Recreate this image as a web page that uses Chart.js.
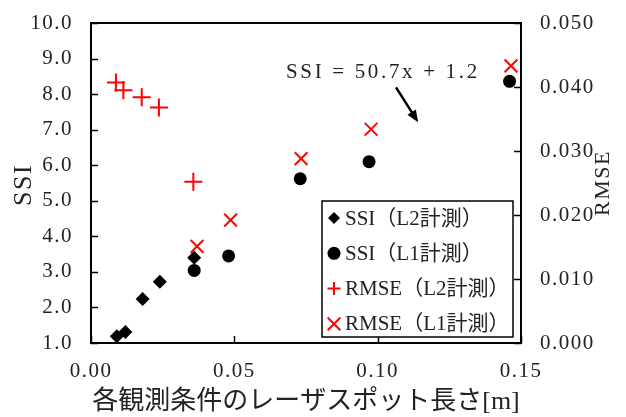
<!DOCTYPE html>
<html>
<head>
<meta charset="utf-8">
<script src="https://cdn.jsdelivr.net/npm/chart.js@4.4.1/dist/chart.umd.min.js"></script>
<style>
  html, body { margin: 0; padding: 0; background: #fff; }
  #wrap { width: 626px; height: 417px; }
</style>
</head>
<body>
<div id="wrap"><canvas id="chart"></canvas></div>
<script>
// data
const ssiL2X = [0.009, 0.012, 0.018, 0.024, 0.036];
const ssiL2Y = [1.19, 1.31, 2.24, 2.72, 3.40];
const ssiL1X = [0.036, 0.048, 0.073, 0.097, 0.146];
const ssiL1Y = [3.04, 3.45, 5.62, 6.10, 8.36];
const rmseL2X = [0.0087, 0.0113, 0.0177, 0.0237, 0.0357];
const rmseL2Y = [0.0407, 0.0395, 0.0384, 0.0368, 0.0252];
const rmseL1X = [0.037, 0.0487, 0.0733, 0.0977, 0.1465];
const rmseL1Y = [0.0151, 0.0192, 0.0288, 0.0334, 0.0433];

const seriesLabels = ['SSI（L2計測）', 'SSI（L1計測）', 'RMSE（L2計測）', 'RMSE（L1計測）'];
const xTitle = '各観測条件のレーザスポット長さ[m]';
const yTitle = 'SSI';
const y2Title = 'RMSE';
const fitText = 'SSI = 50.7x + 1.2';

const FONT = '"Liberation Serif", "Noto Sans CJK JP", serif';
const TXT = '#222';

function pts(xs, ys) {
    return xs.map((x, i) => ({ x: x, y: ys[i] }));
}

const frame = {
    id: 'frame',
    beforeDraw(chart) {
        chart.ctx.letterSpacing = '1.5px';
    },
    beforeDatasetsDraw(chart) {
        const { ctx, chartArea: a, scales } = chart;
        ctx.save();
        ctx.strokeStyle = '#000';
        ctx.lineWidth = 2;
        ctx.strokeRect(a.left, a.top, a.right - a.left, a.bottom - a.top);
        ctx.lineWidth = 1.5;
        ctx.beginPath();
        scales.y.ticks.forEach(t => {
            const p = Math.round(scales.y.getPixelForValue(t.value)) + 0.5;
            ctx.moveTo(a.left, p); ctx.lineTo(a.left + 7, p);
        });
        scales.y2.ticks.forEach(t => {
            const p = Math.round(scales.y2.getPixelForValue(t.value)) + 0.5;
            ctx.moveTo(a.right, p); ctx.lineTo(a.right - 7, p);
        });
        scales.x.ticks.forEach(t => {
            const p = Math.round(scales.x.getPixelForValue(t.value)) + 0.5;
            ctx.moveTo(p, a.bottom); ctx.lineTo(p, a.bottom - 7);
        });
        ctx.stroke();
        ctx.restore();
    },
    afterDraw(chart) {
        const { ctx, chartArea: a, scales } = chart;
        ctx.save();
        ctx.fillStyle = TXT;
        ctx.textAlign = 'center';
        ctx.textBaseline = 'middle';

        // axis titles
        ctx.letterSpacing = '0px';
        ctx.font = '26px ' + FONT;
        ctx.fillText(xTitle, (a.left + a.right) / 2, 402);

        ctx.letterSpacing = '1.5px';
        ctx.save();
        ctx.translate(24, (a.top + a.bottom) / 2 + 2);
        ctx.rotate(-Math.PI / 2);
        ctx.font = '26px ' + FONT;
        ctx.fillText(yTitle, 0, 0);
        ctx.restore();

        ctx.save();
        ctx.translate(603, (a.top + a.bottom) / 2);
        ctx.rotate(-Math.PI / 2);
        ctx.font = '22px ' + FONT;
        ctx.fillText(y2Title, 0, 0);
        ctx.restore();

        // regression note with arrow
        ctx.font = '21px ' + FONT;
        ctx.letterSpacing = '0px';
        const w = ctx.measureText(fitText).width;
        ctx.letterSpacing = ((194 - w) / fitText.length).toFixed(2) + 'px';
        ctx.textAlign = 'left';
        ctx.fillText(fitText, scales.x.getPixelForValue(0.068), scales.y.getPixelForValue(8.61));

        const x0 = scales.x.getPixelForValue(0.1064), y0 = scales.y.getPixelForValue(8.19);
        const x1 = scales.x.getPixelForValue(0.1141), y1 = scales.y.getPixelForValue(7.21);
        const ang = Math.atan2(y1 - y0, x1 - x0);
        ctx.strokeStyle = '#000';
        ctx.fillStyle = '#000';
        ctx.lineWidth = 2.5;
        ctx.beginPath();
        ctx.moveTo(x0, y0);
        ctx.lineTo(x1 - 8 * Math.cos(ang), y1 - 8 * Math.sin(ang));
        ctx.stroke();
        ctx.beginPath();
        ctx.moveTo(x1, y1);
        ctx.lineTo(x1 - 12 * Math.cos(ang) + 5 * Math.sin(ang), y1 - 12 * Math.sin(ang) - 5 * Math.cos(ang));
        ctx.lineTo(x1 - 12 * Math.cos(ang) - 5 * Math.sin(ang), y1 - 12 * Math.sin(ang) + 5 * Math.cos(ang));
        ctx.closePath();
        ctx.fill();

        // legend box
        const bx = 322, by = 201, bw = 191, bh = 136;
        ctx.fillStyle = '#fff';
        ctx.fillRect(bx, by, bw, bh);
        ctx.strokeStyle = '#000';
        ctx.lineWidth = 1.5;
        ctx.strokeRect(bx, by, bw, bh);
        ctx.letterSpacing = '0px';
        ctx.font = '21px ' + FONT;
        ctx.textAlign = 'left';
        const legendRadius = [6, 6.5, 6.5, 9];
        chart.data.datasets.forEach((ds, i) => {
            const ry = 218 + i * 35.3;
            ctx.fillStyle = ds.backgroundColor;
            ctx.strokeStyle = ds.borderColor;
            ctx.lineWidth = ds.pointBorderWidth;
            Chart.helpers.drawPoint(ctx, {
                pointStyle: ds.pointStyle,
                radius: legendRadius[i],
                rotation: 0,
                borderWidth: ds.pointBorderWidth
            }, 334, ry);
            ctx.fillStyle = TXT;
            ctx.fillText(ds.label, 345, ry + 1);
        });
        ctx.restore();
    }
};

new Chart(document.getElementById('chart'), {
    type: 'scatter',
    data: {
        datasets: [
            {
                label: seriesLabels[0],
                data: pts(ssiL2X, ssiL2Y),
                yAxisID: 'y',
                pointStyle: 'rectRot',
                pointRadius: 7,
                pointBorderWidth: 0,
                backgroundColor: '#000',
                borderColor: '#000'
            },
            {
                label: seriesLabels[1],
                data: pts(ssiL1X, ssiL1Y),
                yAxisID: 'y',
                pointStyle: 'circle',
                pointRadius: 6.5,
                pointBorderWidth: 0,
                backgroundColor: '#000',
                borderColor: '#000'
            },
            {
                label: seriesLabels[2],
                data: pts(rmseL2X, rmseL2Y),
                yAxisID: 'y2',
                pointStyle: 'cross',
                pointRadius: 9,
                pointBorderWidth: 2,
                backgroundColor: '#ff0000',
                borderColor: '#ff0000'
            },
            {
                label: seriesLabels[3],
                data: pts(rmseL1X, rmseL1Y),
                yAxisID: 'y2',
                pointStyle: 'crossRot',
                pointRadius: 9,
                pointBorderWidth: 2,
                backgroundColor: '#ff0000',
                borderColor: '#ff0000'
            }
        ]
    },
    options: {
        responsive: true,
        maintainAspectRatio: false,
        animation: false,
        layout: { padding: { top: 23, left: 0, right: 0, bottom: 0 } },
        plugins: {
            legend: { display: false },
            tooltip: { enabled: false }
        },
        scales: {
            x: {
                type: 'linear',
                min: 0,
                max: 0.15,
                border: { display: false },
                grid: { display: false, drawTicks: false },
                ticks: {
                    stepSize: 0.05,
                    padding: 16,
                    color: TXT,
                    font: { family: FONT, size: 21 },
                    maxRotation: 0,
                    callback: v => v.toFixed(2)
                },
                afterFit: s => { s.height = 74; s.paddingLeft = 0; s.paddingRight = 0; }
            },
            y: {
                position: 'left',
                min: 1,
                max: 10,
                border: { display: false },
                grid: { display: false, drawTicks: false },
                ticks: {
                    stepSize: 1,
                    padding: 18,
                    color: TXT,
                    font: { family: FONT, size: 21 },
                    callback: v => v.toFixed(1)
                },
                afterFit: s => { s.width = 91; s.paddingTop = 0; s.paddingBottom = 0; }
            },
            y2: {
                position: 'right',
                min: 0,
                max: 0.05,
                border: { display: false },
                grid: { display: false, drawTicks: false },
                ticks: {
                    stepSize: 0.01,
                    padding: 19,
                    color: TXT,
                    font: { family: FONT, size: 21 },
                    callback: v => v.toFixed(3)
                },
                afterFit: s => { s.width = 105; s.paddingTop = 0; s.paddingBottom = 0; }
            }
        }
    },
    plugins: [frame]
});
</script>
</body>
</html>
